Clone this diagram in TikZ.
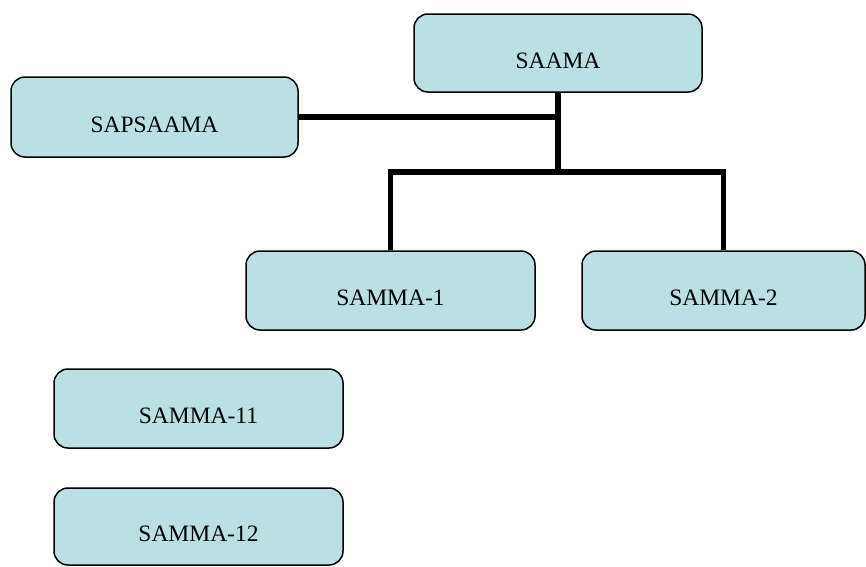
\documentclass[tikz,border=0pt]{standalone}
\usepackage{fontspec}
\setmainfont{Liberation Serif}
\definecolor{boxfill}{RGB}{187,224,227}
\begin{document}
\begin{tikzpicture}[x=1pt,y=-1pt,
  orgbox/.style={draw=black, line width=1.5pt, fill=boxfill, rounded corners=14pt,
    inner sep=0pt, minimum width=288pt, minimum height=79pt,
    text height=30pt, text depth=0pt, font=\fontsize{23.5}{28}\selectfont},
  link/.style={line width=5.3pt, line join=miter}]
  \useasboundingbox (0,0) rectangle (866,566);

  % boxes
  \node[orgbox, minimum height=78pt] (saama) at (558,53) {SAAMA};
  \node[orgbox, minimum width=287pt, minimum height=80pt] (sap) at (154.5,117) {SAPSAAMA};
  \node[orgbox, minimum width=289pt] (s1) at (390.5,290.5) {SAMMA-1};
  \node[orgbox, minimum width=283pt] (s2) at (723.5,290.5) {SAMMA-2};
  \node[orgbox, minimum width=289pt] (s11) at (198.5,408.5) {SAMMA-11};
  \node[orgbox, minimum width=289pt, minimum height=77pt] (s12) at (198.5,526.5) {SAMMA-12};

  % connectors
  \coordinate (split) at (558,172);
  \draw[link] (saama.south) -- (split);
  \draw[link] (sap.east) -- (saama.south |- sap.east);
  \draw[link] (s1.north) |- (split) -| (s2.north);
\end{tikzpicture}
\end{document}
